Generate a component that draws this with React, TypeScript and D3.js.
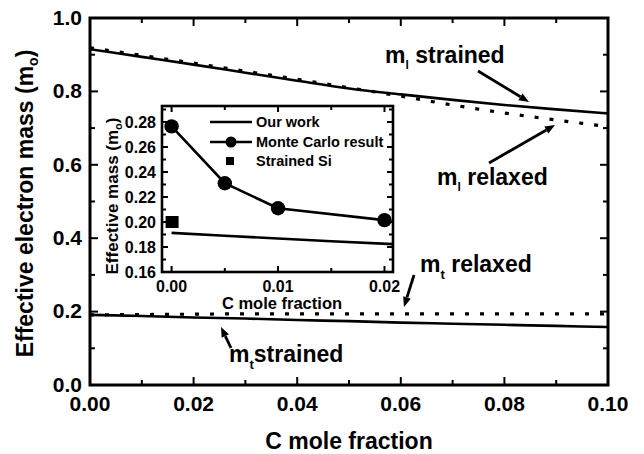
import React from "react";
import * as d3 from "d3";

// ---- Main plot data ----
const mainX = [0, 0.01, 0.02, 0.03, 0.04, 0.05, 0.06, 0.07, 0.08, 0.09, 0.1];
const mlStrained = [0.915, 0.894, 0.873, 0.851, 0.829, 0.808, 0.792, 0.777, 0.763, 0.751, 0.74];
const mlRelaxed = [0.919, 0.898, 0.877, 0.855, 0.833, 0.81, 0.787, 0.763, 0.741, 0.722, 0.704];
const mtStrained = [0.191, 0.188, 0.184, 0.181, 0.177, 0.174, 0.17, 0.167, 0.164, 0.161, 0.158];
const mtRelaxed = [0.191, 0.192, 0.193, 0.194, 0.194, 0.194, 0.194, 0.194, 0.194, 0.194, 0.194];
const mainXTicks = [0, 0.02, 0.04, 0.06, 0.08, 0.1];
const mainYTicks = [0, 0.2, 0.4, 0.6, 0.8, 1.0];

// ---- Inset data ----
const insetWorkX = [0, 0.005, 0.01, 0.015, 0.021];
const insetWorkY = [0.1913, 0.189, 0.1868, 0.1846, 0.1822];
const monteX = [0, 0.005, 0.01, 0.02];
const monteY = [0.2765, 0.231, 0.211, 0.2015];
const strainedSiX = [0];
const strainedSiY = [0.2];
const insetXTicks = [0, 0.01, 0.02];
const insetYTicks = [0.16, 0.18, 0.2, 0.22, 0.24, 0.26, 0.28];
const legendLabels = ["Our work", "Monte Carlo result", "Strained Si"];

const FONT = "'Liberation Sans', Arial, Helvetica, sans-serif";

export default function App() {
  const W = 644, H = 454;
  const x = d3.scaleLinear().domain([0, 0.1]).range([90, 608]);
  const y = d3.scaleLinear().domain([0, 1]).range([385, 18]);

  const ix = d3.scaleLinear().domain([-0.0009, 0.0208]).range([162, 393]);
  const iy = d3.scaleLinear().domain([0.16, 0.2928]).range([272, 106]);

  const line = (xs: number[], ys: number[], sx: any, sy: any, curve = d3.curveLinear) =>
    d3.line<number>().x((_, i) => sx(xs[i])).y((d) => sy(d)).curve(curve)(ys) || "";

  const xMinor = d3.range(0, 0.1001, 0.01);
  const yMinor = d3.range(0, 1.001, 0.1);
  const ixMinor = d3.range(0, 0.0201, 0.005);
  const iyMinor = d3.range(0.16, 0.2901, 0.01);

  const [x0, x1] = x.range();
  const [y0, y1] = y.range();
  const [ix0, ix1] = ix.range();
  const [iy0, iy1] = iy.range();

  const tickStroke = { stroke: "#000", strokeWidth: 2 };

  const arrow = (xa: number, ya: number, xb: number, yb: number, key: string) => {
    const ang = Math.atan2(yb - ya, xb - xa);
    const L = 10, Wd = 4;
    const bx = xb - L * Math.cos(ang), by = yb - L * Math.sin(ang);
    const px = -Math.sin(ang) * Wd, py = Math.cos(ang) * Wd;
    return (
      <g key={key}>
        <line x1={xa} y1={ya} x2={bx} y2={by} stroke="#000" strokeWidth={2.8} />
        <path d={`M${xb},${yb}L${bx + px},${by + py}L${bx - px},${by - py}Z`} fill="#000" />
      </g>
    );
  };

  return (
    <svg width={W} height={H} style={{ position: "absolute", left: 0, top: 0, background: "#fff" }}>
      <rect width={W} height={H} fill="#fff" />
      <defs>
        <clipPath id="mainClip">
          <rect x={x0} y={y1} width={x1 - x0} height={y0 - y1} />
        </clipPath>
        <clipPath id="insetClip">
          <rect x={ix0} y={iy1} width={ix1 - ix0} height={iy0 - iy1} />
        </clipPath>
      </defs>

      {/* main curves */}
      <g clipPath="url(#mainClip)" fill="none" stroke="#000">
        <path d={line(mainX, mlRelaxed, x, y, d3.curveMonotoneX)} strokeWidth={3.2} strokeDasharray="4 11" />
        <path d={line(mainX, mlStrained, x, y, d3.curveMonotoneX)} strokeWidth={2.6} />
        <path d={line(mainX, mtRelaxed, x, y, d3.curveMonotoneX)} strokeWidth={3.2} strokeDasharray="4 11" />
        <path d={line(mainX, mtStrained, x, y, d3.curveMonotoneX)} strokeWidth={2.6} />
      </g>

      {/* main ticks */}
      <g>
        {xMinor.map((v, i) => {
          const major = i % 2 === 0;
          const len = major ? 8 : 5;
          return (
            <g key={"xt" + i}>
              <line x1={x(v)} x2={x(v)} y1={y0} y2={y0 - len} {...tickStroke} />
              <line x1={x(v)} x2={x(v)} y1={y1} y2={y1 + len} {...tickStroke} />
            </g>
          );
        })}
        {yMinor.map((v, i) => {
          const major = i % 2 === 0;
          const len = major ? 8 : 5;
          return (
            <g key={"yt" + i}>
              <line x1={x0} x2={x0 + len} y1={y(v)} y2={y(v)} {...tickStroke} />
              <line x1={x1} x2={x1 - len} y1={y(v)} y2={y(v)} {...tickStroke} />
            </g>
          );
        })}
      </g>
      <rect x={x0} y={y1} width={x1 - x0} height={y0 - y1} fill="none" stroke="#000" strokeWidth={3} />

      {/* main tick labels */}
      <g fontFamily={FONT} fontWeight="bold" fontSize={21} fill="#000">
        {mainXTicks.map((v) => (
          <text key={"xl" + v} x={x(v)} y={411} textAnchor="middle">
            {d3.format(".2f")(v)}
          </text>
        ))}
        {mainYTicks.map((v) => (
          <text key={"yl" + v} x={82} y={y(v)} dy="0.32em" textAnchor="end">
            {d3.format(".1f")(v)}
          </text>
        ))}
      </g>

      {/* main axis titles */}
      <g fontFamily={FONT} fontWeight="bold" fontSize={23} fill="#000">
        <text x={(x0 + x1) / 2} y={449} textAnchor="middle">C mole fraction</text>
        <text transform={`translate(33,${(y0 + y1) / 2 + 2}) rotate(-90)`} textAnchor="middle">
          Effective electron mass (m<tspan fontSize={14} dy={5}>o</tspan>
          <tspan dy={-5}>)</tspan>
        </text>
      </g>

      {/* annotations */}
      <g fontFamily={FONT} fontWeight="bold" fontSize={23} fill="#000">
        <text x={385} y={63}>
          m<tspan fontSize={12} dy={6}>l</tspan>
          <tspan dy={-6}> strained</tspan>
        </text>
        <text x={437} y={185}>
          m<tspan fontSize={12} dy={6}>l</tspan>
          <tspan dy={-6}> relaxed</tspan>
        </text>
        <text x={420} y={272}>
          m<tspan fontSize={13} dy={7}>t</tspan>
          <tspan dy={-7}> relaxed</tspan>
        </text>
        <text x={229} y={362}>
          m<tspan fontSize={13} dy={7}>t</tspan>
          <tspan dy={-7}>strained</tspan>
        </text>
      </g>
      {arrow(478, 71, 529, 102, "a1")}
      {arrow(489, 163, 555, 125, "a2")}
      {arrow(414, 275, 404, 307, "a3")}
      {arrow(231, 348, 221, 327, "a4")}

      {/* inset */}
      <rect x={ix0} y={iy1} width={ix1 - ix0} height={iy0 - iy1} fill="#fff" />
      <g clipPath="url(#insetClip)" fill="none" stroke="#000">
        <path d={line(insetWorkX, insetWorkY, ix, iy)} strokeWidth={2.6} />
        <path d={line(monteX, monteY, ix, iy)} strokeWidth={2.6} />
      </g>
      {monteX.map((v, i) => (
        <circle key={"mc" + i} cx={ix(v)} cy={iy(monteY[i])} r={7.2} fill="#000" />
      ))}
      {strainedSiX.map((v, i) => (
        <rect key={"ss" + i} x={ix(v) - 6} y={iy(strainedSiY[i]) - 6} width={13} height={12} fill="#000" />
      ))}
      <g>
        {ixMinor.map((v, i) => {
          const len = i % 2 === 0 ? 6 : 4;
          return (
            <g key={"ixt" + i}>
              <line x1={ix(v)} x2={ix(v)} y1={iy0} y2={iy0 - len} {...tickStroke} />
              <line x1={ix(v)} x2={ix(v)} y1={iy1} y2={iy1 + len} {...tickStroke} />
            </g>
          );
        })}
        {iyMinor.map((v, i) => {
          const len = i % 2 === 0 ? 6 : 4;
          return (
            <g key={"iyt" + i}>
              <line x1={ix0} x2={ix0 + len} y1={iy(v)} y2={iy(v)} {...tickStroke} />
              <line x1={ix1} x2={ix1 - len} y1={iy(v)} y2={iy(v)} {...tickStroke} />
            </g>
          );
        })}
      </g>
      <rect x={ix0} y={iy1} width={ix1 - ix0} height={iy0 - iy1} fill="none" stroke="#000" strokeWidth={2.6} />

      <g fontFamily={FONT} fontWeight="bold" fontSize={16} fill="#000">
        {insetXTicks.map((v) => (
          <text key={"ixl" + v} x={ix(v)} y={292} textAnchor="middle">
            {d3.format(".2f")(v)}
          </text>
        ))}
        {insetYTicks.map((v) => (
          <text key={"iyl" + v} x={156} y={iy(v)} dy="0.36em" textAnchor="end">
            {d3.format(".2f")(v)}
          </text>
        ))}
        <text x={282} y={309} textAnchor="middle" fontSize={16.5}>C mole fraction</text>
        <text transform={`translate(118,196) rotate(-90)`} textAnchor="middle" fontSize={17}>
          Effective mass (m<tspan fontSize={11} dy={4}>o</tspan>
          <tspan dy={-4}>)</tspan>
        </text>
      </g>

      {/* legend */}
      <g fontFamily={FONT} fontWeight="bold" fontSize={14.5} fill="#000">
        <line x1={210} x2={252} y1={122} y2={122} stroke="#000" strokeWidth={2.6} />
        <text x={256} y={127}>{legendLabels[0]}</text>
        <line x1={210} x2={252} y1={142} y2={142} stroke="#000" strokeWidth={2.6} />
        <circle cx={231} cy={142} r={5.5} fill="#000" />
        <text x={256} y={147}>{legendLabels[1]}</text>
        <rect x={226} y={157} width={8} height={8} fill="#000" />
        <text x={256} y={166}>{legendLabels[2]}</text>
      </g>
    </svg>
  );
}
